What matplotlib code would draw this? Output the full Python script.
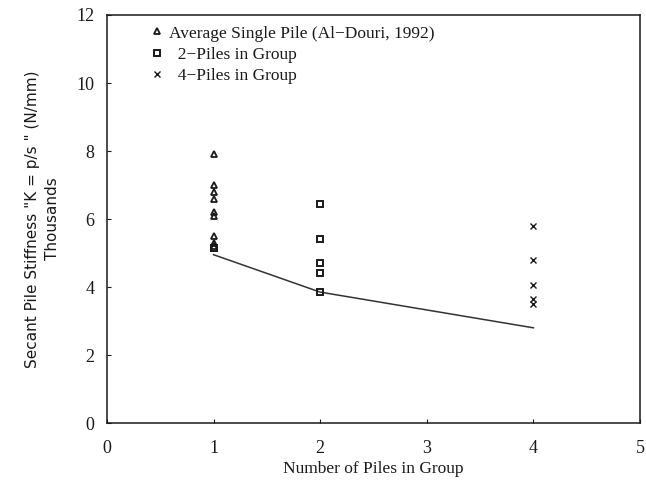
import matplotlib
matplotlib.use("Agg")
import matplotlib.pyplot as plt

# data (values in thousands N/mm)
single_x = [1, 1, 1, 1, 1, 1, 1, 1, 1]
single_y = [7.9, 7.0, 6.8, 6.6, 6.2, 6.1, 5.5, 5.3, 5.2]
two_x = [1, 2, 2, 2, 2, 2]
two_y = [5.15, 6.45, 5.4, 4.7, 4.4, 3.85]
four_x = [4, 4, 4, 4, 4]
four_y = [5.8, 4.8, 4.05, 3.65, 3.5]
avg_x = [1, 2, 4]
avg_y = [4.95, 3.85, 2.8]

xticks = [0, 1, 2, 3, 4, 5]
yticks = [0, 2, 4, 6, 8, 10, 12]

serif = ["Liberation Serif", "DejaVu Serif"]
ink = "#1a1a1a"

fig = plt.figure(figsize=(6.46, 4.87), dpi=100)
ax = fig.add_axes([0.1656, 0.1314, 0.8251, 0.8378])

ax.plot(avg_x, avg_y, color="#333333", lw=1.1)
ax.plot(single_x, single_y, ls="none", marker="^", ms=5, mfc="none",
        mec=ink, mew=1.3, label="Average Single Pile (Al\u2212Douri, 1992)")
ax.plot(two_x, two_y, ls="none", marker="s", ms=4.5, mfc="none",
        mec=ink, mew=1.4, label="  2\u2212Piles in Group")
ax.plot(four_x, four_y, ls="none", marker="x", ms=4, mec=ink,
        mew=1.0, label="  4\u2212Piles in Group")

ax.set_xlim(0, 5)
ax.set_ylim(0, 12)
ax.set_xticks(xticks)
ax.set_yticks(yticks)
ax.tick_params(direction="in", length=3, width=0.8, colors=ink, labelsize=13)
ax.tick_params(axis="x", pad=12)
ax.tick_params(axis="y", pad=9)
for lab in ax.get_xticklabels() + ax.get_yticklabels():
    lab.set_family(serif)
for s in ax.spines.values():
    s.set_linewidth(1.1)
    s.set_color(ink)

ax.set_xlabel("Number of Piles in Group", family=serif, fontsize=12.5, color=ink, labelpad=3)
ax.set_ylabel('Secant Pile Stiffness "K = p/s " (N/mm)\nThousands', family="DejaVu Sans",
              fontsize=11, color=ink, labelpad=12, linespacing=1.4)

leg = ax.legend(loc="upper left", frameon=False, prop={"family": serif, "size": 12.5},
                handlelength=0.7, handletextpad=0.35, labelspacing=0.3,
                borderaxespad=0.2, bbox_to_anchor=(0.062, 1.0))
for t in leg.get_texts():
    t.set_color(ink)

fig.savefig("out.png", dpi=100)
